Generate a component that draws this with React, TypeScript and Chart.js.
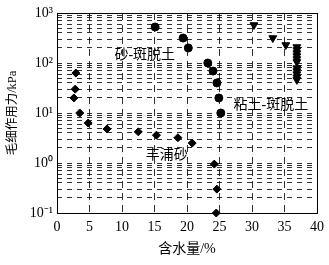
import React, { useEffect, useRef } from "react";
import { Chart, registerables } from "chart.js";

Chart.register(...registerables);

// 丰浦砂 (diamonds)
const SAND_X = [2.9, 2.8, 2.6, 3.5, 4.8, 7.7, 12.5, 15.3, 18.6, 20.8, 24.2, 24.6, 24.5];
const SAND_Y = [63, 30, 20, 10, 6.3, 4.8, 4.2, 3.6, 3.2, 2.5, 0.95, 0.3, 0.1];

// 砂-斑脱土 (circles)
const SB_X = [15.1, 19.4, 20.2, 23.2, 24.0, 24.6, 24.9, 25.2];
const SB_Y = [525, 316, 200, 100, 69, 40, 20, 10];

// 粘土-斑脱土 (down triangles)
const CB_X = [30.3, 33.2, 35.2, 36.9, 36.9, 36.9, 36.9, 36.9, 36.9, 36.9, 36.9, 36.9, 36.9, 36.9];
const CB_Y = [575, 316, 229, 209, 182, 158, 138, 120, 105, 79, 69, 60, 52, 46];

const X_TICKS = [0, 5, 10, 15, 20, 25, 30, 35, 40];
const Y_DECADES = [0.1, 1, 10, 100, 1000];
const Y_TICK_LABELS = ["10⁻¹", "10⁰", "10¹", "10²", "10³"];

const LABEL_TEXT = ["砂-斑脱土", "粘土-斑脱土", "丰浦砂"];
const LABEL_X = [13.5, 32.9, 16.9];
const LABEL_Y = [145, 14.5, 1.45];

const X_TITLE = "含水量/%";
const Y_TITLE = "毛细作用力/kPa";

const FONT = "'Liberation Serif', 'Noto Sans CJK SC', serif";

function toPts(xs: number[], ys: number[]) {
  return xs.map((x, i) => ({ x, y: ys[i] }));
}

export default function App() {
  const ref = useRef<HTMLCanvasElement | null>(null);

  useEffect(() => {
    if (!ref.current) return;

    const framePlugin = {
      id: "frame",
      afterDatasetsDraw(chart: any) {
        const { ctx, chartArea } = chart;
        ctx.save();
        ctx.strokeStyle = "#000";
        ctx.lineWidth = 1;
        ctx.setLineDash([]);
        ctx.strokeRect(
          Math.round(chartArea.left) + 0.5,
          Math.round(chartArea.top) + 0.5,
          Math.round(chartArea.right - chartArea.left),
          Math.round(chartArea.bottom - chartArea.top)
        );
        ctx.restore();
      },
      afterDraw(chart: any) {
        const { ctx } = chart;
        const xs = chart.scales.x;
        const ys = chart.scales.y;
        ctx.save();
        ctx.fillStyle = "#000";
        ctx.font = "14px " + FONT;
        ctx.textAlign = "center";
        ctx.textBaseline = "middle";
        LABEL_TEXT.forEach((t, i) => {
          ctx.fillText(t, xs.getPixelForValue(LABEL_X[i]), ys.getPixelForValue(LABEL_Y[i]));
        });
        ctx.restore();
      },
    };

    const chart = new Chart(ref.current, {
      type: "scatter",
      data: {
        datasets: [
          {
            label: "丰浦砂",
            data: toPts(SAND_X, SAND_Y),
            pointStyle: "rectRot",
            pointRadius: 4,
            backgroundColor: "#000",
            borderColor: "#000",
            clip: false,
          } as any,
          {
            label: "砂-斑脱土",
            data: toPts(SB_X, SB_Y),
            pointStyle: "circle",
            pointRadius: 4,
            backgroundColor: "#000",
            borderColor: "#000",
            clip: false,
          } as any,
          {
            label: "粘土-斑脱土",
            data: toPts(CB_X, CB_Y),
            pointStyle: "triangle",
            rotation: 180,
            pointRadius: 4.5,
            backgroundColor: "#000",
            borderColor: "#000",
            clip: false,
          } as any,
        ],
      },
      options: {
        animation: false,
        responsive: false,
        layout: { padding: { top: 13, right: 12, left: 0, bottom: 0 } },
        plugins: {
          legend: { display: false },
          tooltip: { enabled: false },
        },
        scales: {
          x: {
            type: "linear",
            min: 0,
            max: 40,
            afterBuildTicks: (scale: any) => {
              scale.ticks = X_TICKS.map((v) => ({ value: v }));
            },
            afterFit: (scale: any) => {
              scale.height = 52;
              scale.paddingLeft = 0;
              scale.paddingRight = 0;
            },
            ticks: {
              color: "#000",
              font: { family: FONT, size: 14 },
              padding: 6,
              maxRotation: 0,
              autoSkip: false,
            },
            grid: {
              color: "rgba(0,0,0,0.8)",
              lineWidth: 1,
              drawTicks: false,
            },
            border: { display: false, dash: [7, 5] },
            title: {
              display: true,
              text: X_TITLE,
              color: "#000",
              font: { family: FONT, size: 14 },
              padding: { top: 0, bottom: 7 },
            },
          },
          y: {
            type: "logarithmic",
            min: 0.1,
            max: 1000,
            afterBuildTicks: (scale: any) => {
              const t: any[] = [];
              for (let d = 0; d < Y_DECADES.length; d++) {
                const base = Y_DECADES[d];
                if (d === Y_DECADES.length - 1) {
                  t.push({ value: base, major: true });
                } else {
                  for (let k = 1; k <= 9; k++) t.push({ value: base * k, major: k === 1 });
                }
              }
              scale.ticks = t;
            },
            afterFit: (scale: any) => {
              scale.width = 57;
              scale.paddingTop = 0;
              scale.paddingBottom = 0;
            },
            ticks: {
              color: "#000",
              font: { family: FONT, size: 14 },
              padding: 4,
              autoSkip: false,
              callback: (value: any) => {
                const v = Number(value);
                const idx = Y_DECADES.findIndex((d) => Math.abs(d - v) / d < 1e-6);
                return idx >= 0 ? Y_TICK_LABELS[idx] : "";
              },
            },
            grid: {
              color: "rgba(0,0,0,0.8)",
              lineWidth: 1,
              drawTicks: false,
            },
            border: { display: false, dash: [5, 5] },
            title: {
              display: true,
              text: Y_TITLE,
              color: "#000",
              font: { family: FONT, size: 12.5 },
              padding: { top: 5, bottom: 0 },
            },
          },
        },
      } as any,
      plugins: [framePlugin],
    });

    return () => chart.destroy();
  }, []);

  return (
    <div style={{ position: "fixed", left: 0, top: 0, width: 329, height: 265, background: "#fff" }}>
      <canvas ref={ref} width={329} height={265} style={{ display: "block" }} />
    </div>
  );
}
